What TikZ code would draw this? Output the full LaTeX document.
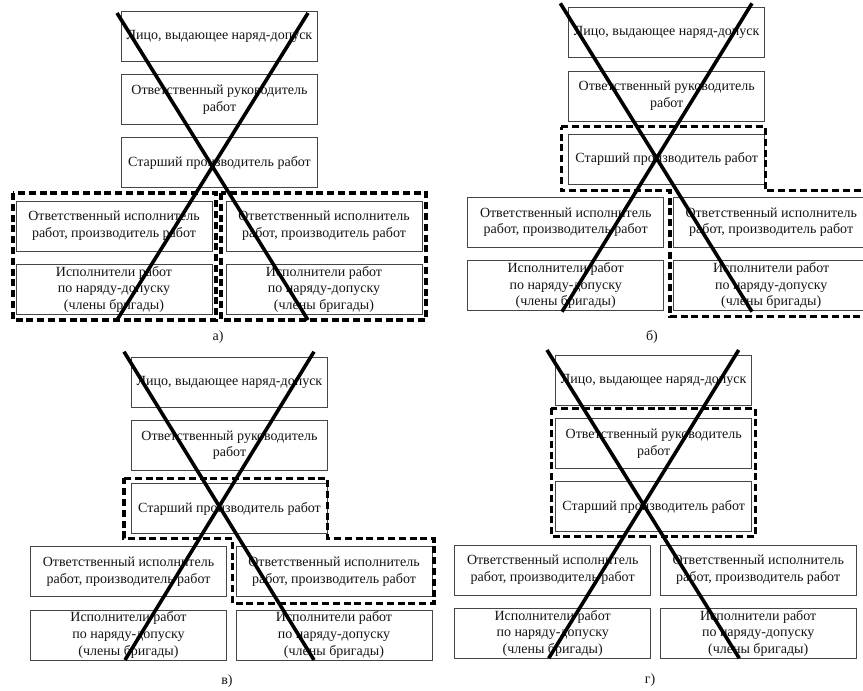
\documentclass[tikz,border=0pt]{standalone}
\usepackage{fontspec}
\setmainfont{Liberation Serif}
\usetikzlibrary{positioning}
\definecolor{ink}{RGB}{20,20,20}
\definecolor{frame}{RGB}{70,70,70}
\tikzset{
  box/.style={draw=frame,line width=0.8pt,fill=white,text=ink,align=center,
    minimum width=196pt,minimum height=50pt,inner sep=1pt,
    font=\fontsize{14}{16.7}\selectfont},
  group/.style={draw=black,line width=3.2pt,dash pattern=on 7pt off 3.8pt},
  strike/.style={draw=black,line width=3.6pt},
  caption/.style={font=\fontsize{14}{16.7}\selectfont,text=ink},
  % one column of seven posts
  pics/stack/.style 2 args={code={
    \node[box,anchor=north] (-top) at (0,0) {Лицо, выдающее наряд-допуск};
    \node[box,anchor=north] (-head) at (0,63.2) {Ответственный руководитель\\работ};
    \node[box,anchor=north] (-senior) at (0,126.4) {Старший производитель работ};
    \node[box,anchor=north] (-exl) at (#1,189.6) {Ответственный исполнитель\\работ, производитель работ};
    \node[box,anchor=north] (-exr) at (#2,189.6) {Ответственный исполнитель\\работ, производитель работ};
    \node[box,anchor=north] (-crewl) at (#1,252.8) {Исполнители работ\\по наряду-допуску\\(члены бригады)};
    \node[box,anchor=north] (-crewr) at (#2,252.8) {Исполнители работ\\по наряду-допуску\\(члены бригады)};
  }},
}
\begin{document}
\begin{tikzpicture}[x=1pt,y=-1pt]
  \useasboundingbox (0,0) rectangle (863,691);
  % a)
  \pic (a) at (219.5,11) {stack={-105.5}{104.5}};
  \draw[group] (13,193) rectangle (216,320);
  \draw[group] (221,193) rectangle (426,320);
  \node[caption] (capa) at (218,337) {а)};
  % b)
  \pic (b) at (666.7,7.3) {stack={-101}{104.5}};
  \draw[group] (561.3,126.7) -- (765.3,126.7) -- (765.3,190.7) -- (875,190.7)
    -- (875,316.7) -- (670,316.7) -- (670,190.7) -- (561.3,190.7) -- cycle;
  \node[caption] (capb) at (652,337) {б)};
  % v)
  \pic (v) at (229.5,356.7) {stack={-101}{104.5}};
  \draw[group] (124,478.3) -- (327.3,478.3) -- (327.3,538.3) -- (434,538.3)
    -- (434,603.3) -- (232.3,603.3) -- (232.3,538.3) -- (124,538.3) -- cycle;
  \node[caption] (capv) at (227,681) {в)};
  % g)
  \pic (g) at (653.7,355) {stack={-101}{104.5}};
  \draw[group] (551.3,408.3) rectangle (755.3,536.7);
  \node[caption] (capg) at (650,680) {г)};
  % crosses
  \draw[strike] (117,13) -- (308,320) (308,13) -- (117,320);
  \draw[strike] (560.3,3.3) -- (752,311.7) (752,3.3) -- (562,311.7);
  \draw[strike] (124,351.7) -- (314,660) (314,351.7) -- (125,660);
  \draw[strike] (547,350) -- (739.3,658.3) (738.7,350) -- (548.7,658.3);
\end{tikzpicture}
\end{document}
